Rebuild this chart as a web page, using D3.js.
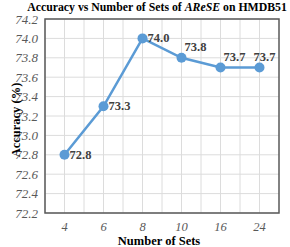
<!DOCTYPE html>
<html>
  <head>
    <meta charset="utf-8">
    <title></title>
  </head>
  <style>
  body{
      margin: 0;
      background: #fff;
    }
  text { font-family: "Liberation Serif", "Times New Roman", serif; }
  </style>
  <script src="https://d3js.org/d3.v7.min.js"></script>
  <body>
    <script>
    // data
    var categories = ["4", "6", "8", "10", "16", "24"]
    var accuracy = [72.8, 73.3, 74.0, 73.8, 73.7, 73.7]
    var yTicks = [72.2, 72.4, 72.6, 72.8, 73.0, 73.2, 73.4, 73.6, 73.8, 74.0, 74.2]
    var labelPos = ["right", "right", "right", "upright", "upright", "up"]

    var W = 290, H = 247
    var margin = { left: 45, top: 19, right: 11, bottom: 34 }
    var width = W - margin.left - margin.right
    var height = H - margin.top - margin.bottom

    var svg = d3.select("body").append("svg")
                .attr("width", W)
                .attr("height", H)

    var g = svg.append("g")
               .attr("transform", "translate(" + margin.left + "," + margin.top + ")")

    var xScale = d3.scaleBand()
                   .domain(categories)
                   .range([0, width])
    var yScale = d3.scaleLinear()
                   .domain([72.2, 74.2])
                   .range([height, 0])

    function cx(i){ return xScale(categories[i]) + xScale.bandwidth() / 2 }

    // grid, horizontal
    g.append("g").selectAll("line")
      .data(yTicks)
      .enter().append("line")
      .attr("x1", 0).attr("x2", width)
      .attr("y1", function(d){ return yScale(d) })
      .attr("y2", function(d){ return yScale(d) })
      .attr("stroke", "#dcdcdc").attr("stroke-width", 1)

    // grid, vertical: band edges and centers
    var vLines = []
    categories.forEach(function(c){
      vLines.push(xScale(c))
      vLines.push(xScale(c) + xScale.bandwidth() / 2)
    })
    g.append("g").selectAll("line")
      .data(vLines)
      .enter().append("line")
      .attr("x1", function(d){ return d }).attr("x2", function(d){ return d })
      .attr("y1", 0).attr("y2", height)
      .attr("stroke", "#dcdcdc").attr("stroke-width", 1)

    // frame
    g.append("rect")
      .attr("width", width).attr("height", height)
      .attr("fill", "none")
      .attr("stroke", "#595959").attr("stroke-width", 1.5)

    // y axis
    var yAxis = d3.axisLeft(yScale)
                  .tickValues(yTicks)
                  .tickFormat(d3.format(".1f"))
                  .tickSize(0).tickPadding(7)
    var ya = g.append("g").call(yAxis)
    ya.attr("font-family", null)
    ya.select(".domain").remove()
    ya.selectAll("text")
      .attr("font-style", "italic")
      .attr("font-size", "13px")
      .attr("fill", "#595959")

    // x axis
    var xAxis = d3.axisBottom(xScale).tickSize(0).tickPadding(9)
    var xa = g.append("g")
              .attr("transform", "translate(0," + height + ")")
              .call(xAxis)
    xa.attr("font-family", null)
    xa.select(".domain").remove()
    xa.selectAll("text")
      .attr("font-style", "italic")
      .attr("font-size", "12.5px")
      .attr("fill", "#595959")

    // line
    var line = d3.line()
                 .x(function(d, i){ return cx(i) })
                 .y(function(d){ return yScale(d) })
    g.append("path")
      .datum(accuracy)
      .attr("d", line)
      .attr("fill", "none")
      .attr("stroke", "#5b9bd5")
      .attr("stroke-width", 2.5)

    g.append("g").selectAll("circle")
      .data(accuracy)
      .enter().append("circle")
      .attr("cx", function(d, i){ return cx(i) })
      .attr("cy", function(d){ return yScale(d) })
      .attr("r", 5)
      .attr("fill", "#5b9bd5")

    // data labels
    g.append("g").selectAll("text")
      .data(accuracy)
      .enter().append("text")
      .attr("x", function(d, i){
        if (labelPos[i] == "right") return cx(i) + 5
        if (labelPos[i] == "upright") return cx(i) + 3
        return cx(i) + 5
      })
      .attr("y", function(d, i){
        return labelPos[i] == "right" ? yScale(d) + 4 : yScale(d) - 7
      })
      .attr("text-anchor", function(d, i){ return labelPos[i] == "up" ? "middle" : "start" })
      .attr("font-weight", "bold")
      .attr("font-size", "12.5px")
      .attr("fill", "#404040")
      .text(function(d){ return d.toFixed(1) })

    // title
    var title = svg.append("text")
      .attr("x", 157).attr("y", 11)
      .attr("text-anchor", "middle")
      .attr("font-weight", "bold")
      .attr("font-size", "12px")
      .attr("fill", "#000")
    title.append("tspan").text("Accuracy vs Number of Sets of ")
    title.append("tspan").attr("font-style", "italic").text("AReSE")
    title.append("tspan").text(" on HMDB51")
    var tw = title.node().getComputedTextLength()
    title.attr("font-size", (12 * 260 / tw) + "px")

    // axis titles
    svg.append("text")
      .attr("x", 159).attr("y", 245)
      .attr("text-anchor", "middle")
      .attr("font-weight", "bold")
      .attr("font-size", "12.5px")
      .attr("fill", "#000")
      .text("Number of Sets")

    svg.append("text")
      .attr("transform", "translate(20," + (margin.top + height / 2 + 4) + ") rotate(-90)")
      .attr("text-anchor", "middle")
      .attr("font-weight", "bold")
      .attr("font-size", "12.5px")
      .attr("fill", "#000")
      .text("Accuracy (%)")
    </script>
  </body>
</html>
